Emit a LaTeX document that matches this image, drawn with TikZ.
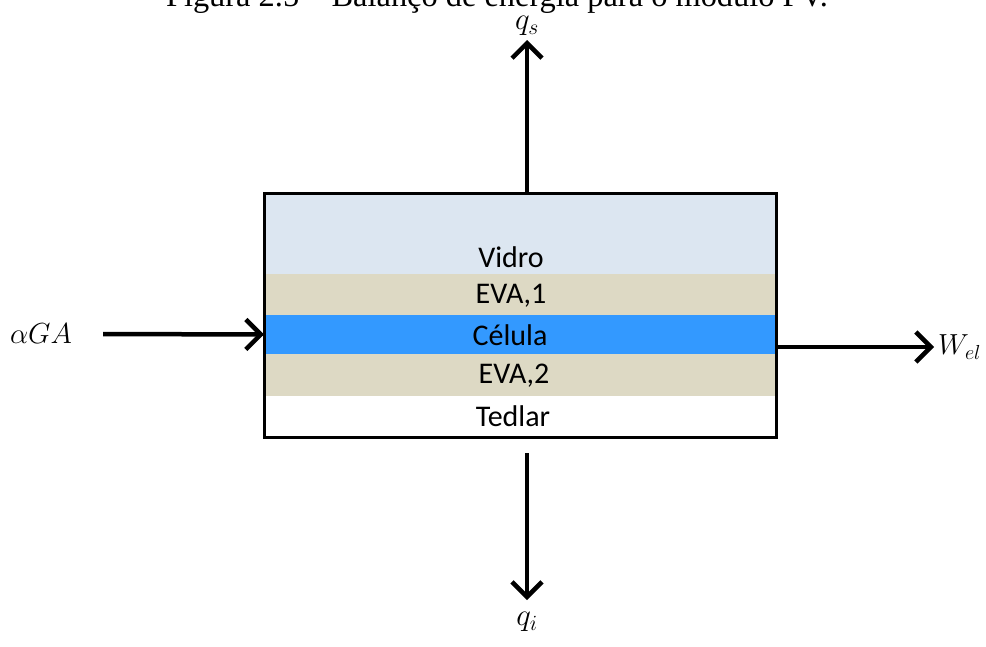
\documentclass[tikz,border=0pt]{standalone}
\usepackage{fix-cm}
\usepackage{fontspec}
\setmainfont{Liberation Serif}
\newfontfamily\calibri{Carlito}
\usetikzlibrary{arrows.meta}
\definecolor{vidro}{RGB}{220,230,241}
\definecolor{eva}{RGB}{221,217,196}
\definecolor{celula}{RGB}{51,153,255}
\tikzset{
  camada/.style={minimum width=512pt, inner sep=0pt, outer sep=0pt},
  rotulo/.style={font=\calibri\fontsize{30}{34}\selectfont, inner sep=0pt},
  simbolo/.style={font=\fontsize{29}{33}\selectfont, inner sep=0pt},
  fluxo/.style={line width=4.5pt, -{Straight Barb[length=15pt,width=30pt]}}
}

\begin{document}
\begin{tikzpicture}[x=1pt,y=-1pt]
			%%%%% START %%%%%
			\useasboundingbox (0,0) rectangle (986,646);
			
			\node[font=\fontsize{32.4}{36}\selectfont, anchor=base] (titulo) at (497,6) {Figura 2.5 -- Balanço de energia para o módulo PV.};
			
			%% camadas do modulo
			\node[camada, fill=vidro, minimum height=81pt] (vidro) at (520,233.5) {};
			\node[camada, fill=eva, minimum height=41pt] (eva1) at (520,294.5) {};
			\node[camada, fill=celula, minimum height=39pt] (celula) at (520,334.5) {};
			\node[camada, fill=eva, minimum height=42pt] (eva2) at (520,375) {};
			\node[camada, fill=white, minimum height=41pt] (tedlar) at (520,416.5) {};
			\draw[line width=3pt] (vidro.north west) rectangle (tedlar.south east);
			
			\node[rotulo] (tvidro) at (511,257) {Vidro};
			\node[rotulo] (teva1) at (511,296) {EVA,1};
			\node[rotulo] (tcelula) at (510,335) {Célula};
			\node[rotulo] (teva2) at (514,376) {EVA,2};
			\node[rotulo] (ttedlar) at (513,416) {Tedlar};
			
			%% fluxos de energia
			\node[simbolo, font=\fontsize{31}{35}\selectfont, anchor=south] (qs) at (527,36) {$q_s$};
			\node[simbolo, font=\fontsize{31}{35}\selectfont, anchor=north] (qi) at (527,612) {$q_i$};
			\node[simbolo] (aga) at (41,334) {$\alpha GA$};
			\node[simbolo, anchor=west] (wel) at (938,347) {$W_{el}$};
			
			\draw[fluxo] (vidro.north -| qs) -- ([yshift=-4pt]qs.south);
			\draw[fluxo] ([yshift=-16pt]tedlar.south -| qi) -- ([yshift=12pt]qi.north);
			\draw[fluxo] ([xshift=31pt]aga.east) -- (celula.west);
			\draw[fluxo] (celula.east |- wel) -- ([xshift=-4pt]wel.west);
			
			%%%%% END %%%%%
\end{tikzpicture}
\end{document}
